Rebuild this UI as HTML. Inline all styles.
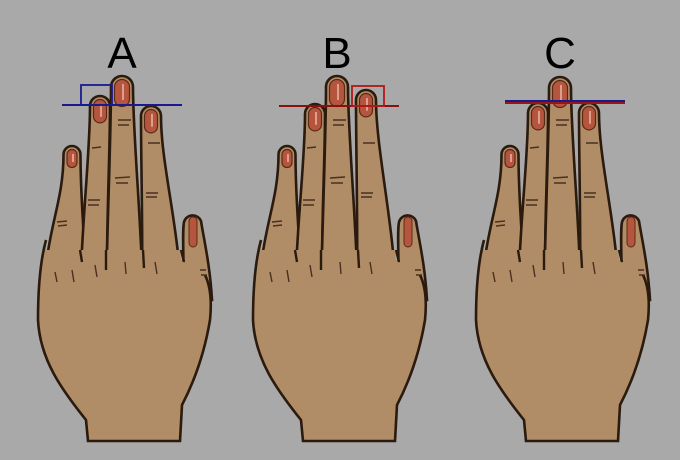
<!DOCTYPE html>
<html><head><meta charset="utf-8"><style>
html,body{margin:0;padding:0;background:#a9a9a9;}
svg{display:block}
</style></head><body>
<svg id="s" width="680" height="460" viewBox="0 0 680 460" xmlns="http://www.w3.org/2000/svg">
<rect width="680" height="460" fill="#a9a9a9"/>
</svg>
<script>
const labels=["A","B","C"];
const offsets=[0,215,438];
const ringTips=[96,104,103];
const indexTips=[106,90,103];
const middleTips=[76,76,77];
const NS="http://www.w3.org/2000/svg";
const svg=document.getElementById('s');
const SK="#b08d66",OL="#2b1a0e";
function el(t,a,p){const e=document.createElementNS(NS,t);for(const k in a)e.setAttribute(k,a[k]);(p||svg).appendChild(e);return e;}
function finger(g,cx,ty,tw,bl,br,by){
  const r=tw/2;
  const d=`M${bl},${by} C${bl+1},${by-70} ${cx-r},${ty+60} ${cx-r},${ty+r} A${r},${r} 0 0 1 ${cx+r},${ty+r} C${cx+r},${ty+60} ${br-1},${by-70} ${br},${by} Z`;
  const p=el('path',{d,fill:SK,stroke:OL,'stroke-width':2.6},g);
  
  
  const nw=tw-7;
  const n=el('rect',{x:cx-nw/2,y:ty+3.5,width:nw,height:nw*1.8,rx:nw/2,fill:"#b5553e",stroke:"#5a2a18",'stroke-width':1.2},g);
  
  
  el('line',{x1:cx+1,y1:ty+8,x2:cx+1,y2:ty+nw*1.6,stroke:"#e8b8a8",'stroke-width':1.5},g);
}
for(let i=0;i<3;i++){
  const dx=offsets[i];
  const g=el('g',{transform:`translate(${dx},0)`});
  
  
  const t=el('text',{x:122,y:68,'text-anchor':'middle','font-size':44,'font-family':'Liberation Sans, sans-serif',fill:'#000'},g);
  t.textContent=labels[i];
  
  
  const th=el('path',{d:"M184,300 C184,262 182,232 184,222 A9,9 0 0 1 201,221 C204,240 210,265 212,300 Z",fill:SK,stroke:OL,'stroke-width':2.6},g);
  
  
  el('rect',{x:189,y:217,width:8,height:30,rx:4,fill:"#b5553e",stroke:"#5a2a18",'stroke-width':1},g);
  finger(g,72,146,17,44,86,300);
  finger(g,100,ringTips[i],20,80,107,300);
  finger(g,122,middleTips[i],22,106,143,300);
  finger(g,151,indexTips[i],20,142,181,300);
  el('path',{d:"M46,240 C40,262 38,290 38,320 C40,360 62,390 86,420 L88,441 L180,441 L182,405 C195,380 205,350 210,320 C212,300 210,285 205,275 L181,260 L180,250 L46,250 Z",fill:SK},g);
  const pl=el('path',{d:"M46,240 C40,262 38,290 38,320 C40,360 62,390 86,420 L88,441 L180,441 L182,405 C195,380 205,350 210,320 C212,300 210,285 205,275",fill:"none",stroke:OL,'stroke-width':2.6},g);
  
  
  el('path',{d:"M80,250 L82,262 M106,250 L106,270 M143,250 L144,268 M181,250 L184,262",stroke:OL,'stroke-width':2.4,fill:"none"},g);
  el('path',{d:"M57,222 l10,-1 M58,226 l9,-1 M88,200 l12,0 M88,205 l11,0 M115,178 l15,-1 M116,183 l12,0 M146,193 l12,0 M146,197 l11,0 M92,148 l9,-1 M118,120 l13,0 M118,125 l11,0 M148,143 l12,0 M55,272 l2,10 M72,270 l2,12 M95,265 l2,12 M125,262 l1,12 M155,262 l2,12 M200,270 l6,0 M201,275 l6,0",stroke:"#4a3020",'stroke-width':1.4,fill:"none"},g);
}
function m(t,a,n){const e=el(t,a);}
m('line',{x1:62,y1:105,x2:182,y2:105,stroke:"#1a1a90",'stroke-width':2},'line-a');
m('rect',{x:81,y:85,width:31,height:20,fill:"none",stroke:"#1a1a90",'stroke-width':1.8},'box-a');
m('line',{x1:279,y1:106,x2:399,y2:106,stroke:"#8a1010",'stroke-width':2},'line-b');
m('rect',{x:352,y:86,width:32,height:20,fill:"none",stroke:"#b01818",'stroke-width':1.8},'box-b');
m('line',{x1:505,y1:103,x2:625,y2:103,stroke:"#9a1515",'stroke-width':2},'line-c-red');
m('line',{x1:505,y1:101,x2:625,y2:101,stroke:"#1a1a90",'stroke-width':2},'line-c-blue');
</script>
</body></html>
